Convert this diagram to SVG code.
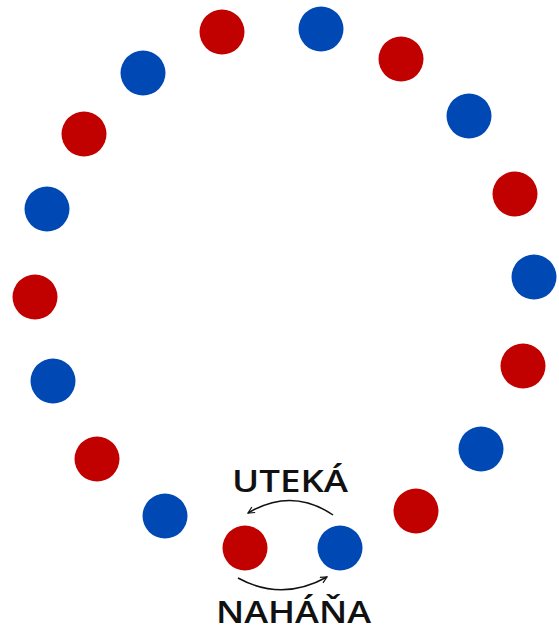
<svg xmlns="http://www.w3.org/2000/svg" width="559" height="633" viewBox="0 0 559 633">
<style>
.r{fill:#c10000}
.b{fill:#0049b4}
.lbl{font-family:"Open Sans","Liberation Sans",sans-serif;font-weight:600;font-size:30px;fill:#111}
.arc{fill:none;stroke:#111;stroke-width:1.5}
</style>
<defs>
<marker id="ah" viewBox="0 0 10 10" refX="9" refY="5" markerWidth="8" markerHeight="8" orient="auto" markerUnits="userSpaceOnUse">
<path d="M1,1 L9,5 L1,9" fill="none" stroke="#111" stroke-width="1.5"/>
</marker>
</defs>
<rect width="559" height="633" fill="#fff"/>
<g id="c1"><circle class="r" cx="222" cy="32" r="22.5"/></g>
<g id="c2"><circle class="b" cx="321" cy="29" r="22.5"/></g>
<g id="c3"><circle class="r" cx="401" cy="59" r="22.5"/></g>
<g id="c4"><circle class="b" cx="469" cy="116" r="22.5"/></g>
<g id="c5"><circle class="r" cx="515" cy="194" r="22.5"/></g>
<g id="c6"><circle class="b" cx="534" cy="277" r="22.5"/></g>
<g id="c7"><circle class="r" cx="523" cy="366" r="22.5"/></g>
<g id="c8"><circle class="b" cx="481" cy="449" r="22.5"/></g>
<g id="c9"><circle class="r" cx="416" cy="511" r="22.5"/></g>
<g id="c10"><circle class="b" cx="340" cy="548" r="22.5"/></g>
<g id="c11"><circle class="r" cx="245" cy="548" r="22.5"/></g>
<g id="c12"><circle class="b" cx="165" cy="516" r="22.5"/></g>
<g id="c13"><circle class="r" cx="97" cy="459" r="22.5"/></g>
<g id="c14"><circle class="b" cx="53" cy="381" r="22.5"/></g>
<g id="c15"><circle class="r" cx="35" cy="297" r="22.5"/></g>
<g id="c16"><circle class="b" cx="47" cy="209" r="22.5"/></g>
<g id="c17"><circle class="r" cx="84" cy="134" r="22.5"/></g>
<g id="c18"><circle class="b" cx="143" cy="73" r="22.5"/></g>
<g id="connectors">
<path class="arc" d="M333,515 Q292,487 248,513" marker-end="url(#ah)"/>
<path class="arc" d="M238,578 Q282,602 327,577" marker-end="url(#ah)"/>
</g>
<g id="labels">
<text class="lbl" x="232" y="492" textLength="116" lengthAdjust="spacingAndGlyphs">UTEKÁ</text>
<text class="lbl" x="216" y="623" textLength="155" lengthAdjust="spacingAndGlyphs">NAHÁŇA</text>
</g>
</svg>
